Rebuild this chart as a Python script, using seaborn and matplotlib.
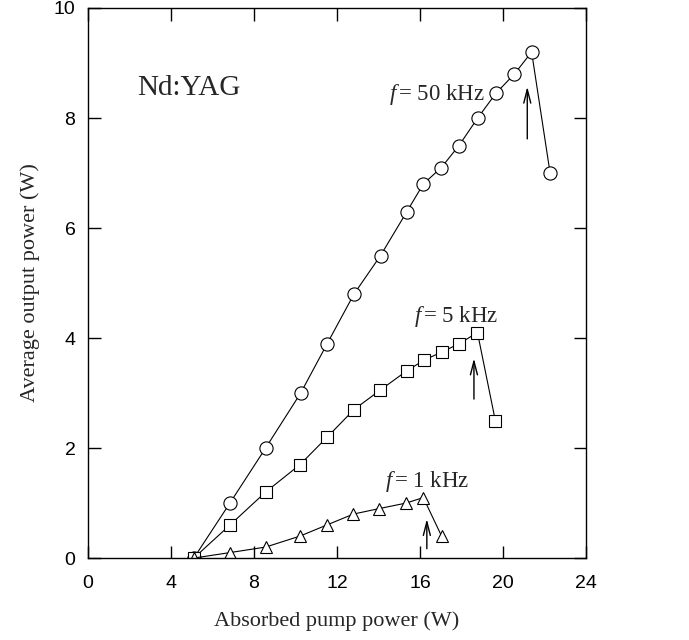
import matplotlib
matplotlib.use("Agg")
import matplotlib.pyplot as plt
import seaborn as sns
import pandas as pd

# data
x_50k = [5.1, 6.84, 8.56, 10.25, 11.53, 12.82, 14.1, 15.37, 16.16, 17.03, 17.88, 18.78, 19.66, 20.55, 21.38, 22.27]
y_50k = [0.0, 1.0, 2.0, 3.0, 3.9, 4.8, 5.5, 6.3, 6.8, 7.1, 7.5, 8.0, 8.45, 8.8, 9.2, 7.0]

x_5k = [5.1, 6.84, 8.56, 10.22, 11.53, 12.82, 14.07, 15.35, 16.2, 17.08, 17.9, 18.77, 19.63]
y_5k = [0.0, 0.6, 1.2, 1.7, 2.2, 2.7, 3.05, 3.4, 3.6, 3.75, 3.9, 4.1, 2.5]

x_1k = [5.1, 6.84, 8.56, 10.22, 11.5, 12.79, 14.04, 15.33, 16.16, 17.04]
y_1k = [0.0, 0.1, 0.2, 0.4, 0.6, 0.8, 0.9, 1.0, 1.1, 0.4]

x_ticks = [0, 4, 8, 12, 16, 20, 24]
y_ticks = [0, 2, 4, 6, 8, 10]

sns.set_style("ticks")
plt.rcParams['font.family'] = ['Liberation Sans', 'DejaVu Sans']
plt.rcParams['mathtext.fontset'] = 'custom'
plt.rcParams['mathtext.it'] = 'Liberation Serif:italic'
plt.rcParams['mathtext.rm'] = 'Liberation Serif'

fig = plt.figure(figsize=(6.89, 6.4), dpi=100)
ax = fig.add_axes([0.1277, 0.128, 0.7228, 0.8595])

series = [
    (x_50k, y_50k, 'o', 9.5),
    (x_5k, y_5k, 's', 8),
    (x_1k, y_1k, '^', 9),
]
for xs, ys, mk, ms in series:
    df = pd.DataFrame({'x': xs, 'y': ys})
    sns.lineplot(data=df, x='x', y='y', ax=ax, estimator=None, sort=False,
                 color='black', linewidth=0.8, marker=mk, markersize=ms,
                 markerfacecolor='white', markeredgecolor='black',
                 markeredgewidth=0.8)

ax.set_xlim(0, 24)
ax.set_ylim(0, 10)
ax.set_xticks(x_ticks)
ax.set_yticks(y_ticks)
ax.tick_params(direction='in', length=9, width=1, top=True, right=True,
               labelsize=14, colors='black')
ax.tick_params(axis='x', pad=12)
ax.tick_params(axis='y', pad=9)
for s in ax.spines.values():
    s.set_linewidth(1.0)
    s.set_color('black')

serif = ['Liberation Serif', 'DejaVu Serif']
ax.set_xlabel('Absorbed pump power (W)', fontsize=16, family=serif, labelpad=14)
ax.set_ylabel('Average output power (W)', fontsize=16, family=serif, labelpad=10)

ax.text(2.35, 8.55, 'Nd:YAG', fontsize=21, family=serif, va='center')
ax.text(14.5, 8.42, r'$f\,$= 50 kHz', fontsize=16.5, family=serif, va='center')
ax.text(15.72, 4.39, r'$f\,$= 5 kHz', fontsize=16.5, family=serif, va='center')
ax.text(14.3, 1.39, r'$f\,$= 1 kHz', fontsize=16.5, family=serif, va='center')

arrow = dict(arrowstyle='->,head_length=0.7,head_width=0.18', color='black',
             lw=1.0, mutation_scale=14)
ax.annotate('', xy=(21.17, 8.62), xytext=(21.17, 7.57), arrowprops=arrow)
ax.annotate('', xy=(18.6, 3.68), xytext=(18.6, 2.84), arrowprops=arrow)
ax.annotate('', xy=(16.33, 0.76), xytext=(16.33, 0.12), arrowprops=arrow)

fig.savefig('out.png', dpi=100)
